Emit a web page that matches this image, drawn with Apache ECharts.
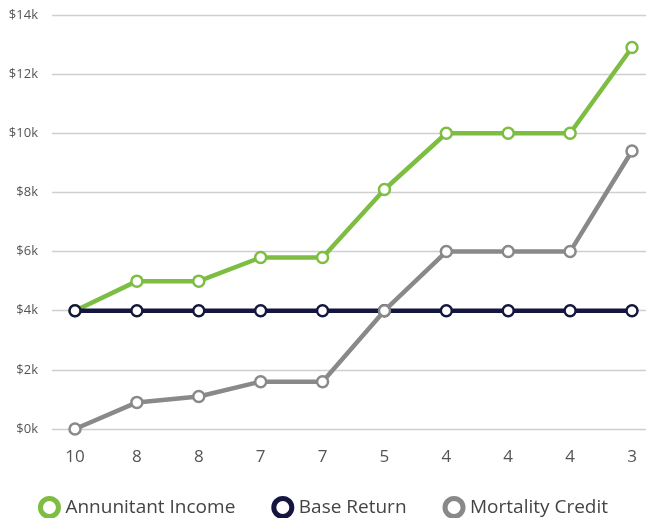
<!DOCTYPE html>
<html>
<head>
<meta charset="utf-8">
<script src="https://cdn.jsdelivr.net/npm/echarts@6/dist/echarts.min.js"></script>
<style>
  html, body { margin: 0; padding: 0; background: #fff; }
  #chart { width: 646px; height: 518px; }
</style>
</head>
<body>
<div id="chart"></div>
<script>
// Years remaining in each cohort step
const categories = ['10', '8', '8', '7', '7', '5', '4', '4', '4', '3'];

// Dollar amounts per step
const annuitantIncome = [4000, 5000, 5000, 5800, 5800, 8100, 10000, 10000, 10000, 12900];
const baseReturn      = [4000, 4000, 4000, 4000, 4000, 4000, 4000, 4000, 4000, 4000];
const mortalityCredit = [0, 900, 1100, 1600, 1600, 4000, 6000, 6000, 6000, 9400];

const seriesNames = ['Annunitant Income', 'Base Return', 'Mortality Credit'];
const colors = ['#7dbd42', '#14163f', '#898989'];

const FONT = 'Open Sans';
const Y_MIN = 0, Y_MAX = 14000, Y_STEP = 2000;

const chart = echarts.init(document.getElementById('chart'), null, { renderer: 'canvas' });

function lineSeries(name, data, color, z) {
  return {
    name: name,
    type: 'line',
    xAxisIndex: 1,
    yAxisIndex: 1,
    data: data,
    z: z,
    symbol: 'circle',
    symbolSize: 11,
    showSymbol: true,
    lineStyle: { color: color, width: 4.5 },
    itemStyle: { color: '#fff', borderColor: color, borderWidth: 2.5 },
    emphasis: { disabled: true },
    animation: false
  };
}

chart.setOption({
  animation: false,
  color: colors,
  grid: [
    // background grid carrying the value labels and horizontal rules
    { left: 52, right: 0, top: 15, bottom: 89 },
    // plotting grid for the lines
    { left: 75, right: 14, top: 15, bottom: 89 }
  ],
  xAxis: [
    { gridIndex: 0, type: 'value', min: 0, max: 1, show: false },
    {
      gridIndex: 1,
      type: 'category',
      data: categories,
      boundaryGap: false,
      axisLine: { show: false },
      axisTick: { show: false },
      splitLine: { show: false },
      axisLabel: {
        margin: 20,
        color: '#555',
        fontFamily: FONT,
        fontSize: 17,
        interval: 0
      }
    }
  ],
  yAxis: [
    {
      gridIndex: 0,
      type: 'value',
      min: Y_MIN, max: Y_MAX, interval: Y_STEP,
      axisLine: { show: false },
      axisTick: { show: false },
      splitLine: { lineStyle: { color: '#cfcfcf', width: 1.3 } },
      axisLabel: {
        margin: 14,
        color: '#555',
        fontFamily: FONT,
        fontSize: 13,
        formatter: v => '$' + (v / 1000) + 'k'
      }
    },
    {
      gridIndex: 1,
      type: 'value',
      min: Y_MIN, max: Y_MAX, interval: Y_STEP,
      show: false,
      splitLine: { show: false }
    }
  ],
  legend: {
    top: 496,
    left: 'center',
    padding: 0,
    itemGap: 36,
    itemWidth: 22,
    itemHeight: 18,
    icon: 'circle',
    textStyle: { color: '#444', fontFamily: FONT, fontSize: 19, lineHeight: 20 },
    data: seriesNames.map((n, i) => ({
      name: n,
      itemStyle: { color: '#fff', borderColor: colors[i], borderWidth: 5 }
    }))
  },
  series: [
    lineSeries(seriesNames[0], annuitantIncome, colors[0], 2),
    lineSeries(seriesNames[1], baseReturn, colors[1], 3),
    lineSeries(seriesNames[2], mortalityCredit, colors[2], 4)
  ]
});
</script>
</body>
</html>
